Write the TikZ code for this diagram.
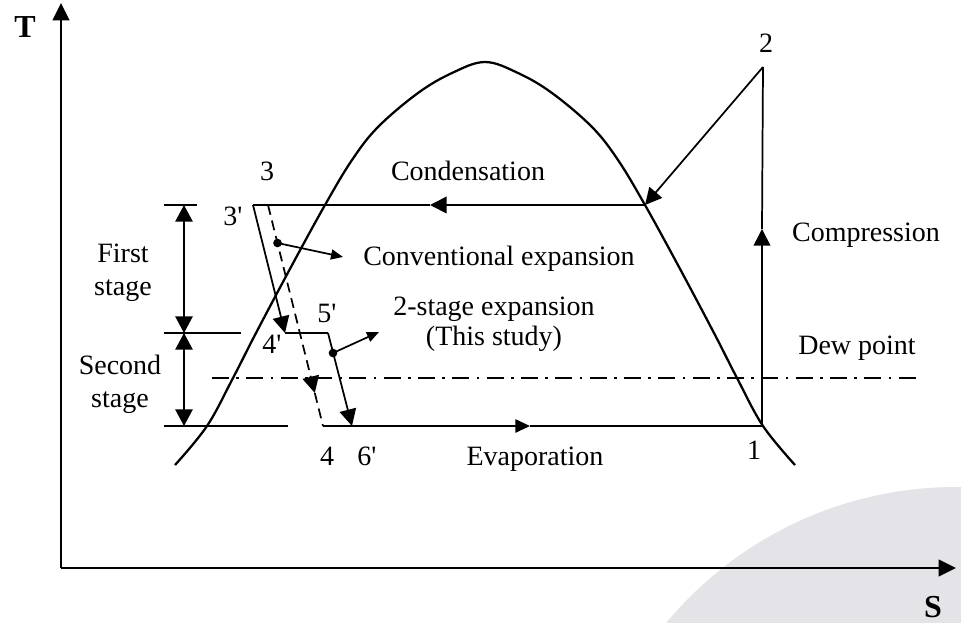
\documentclass[tikz,border=0pt]{standalone}
\usepackage{fontspec}
\setmainfont{Liberation Serif}
\usetikzlibrary{arrows.meta}
\definecolor{wmgray}{HTML}{E4E3E7}
\newcommand{\pr}{\textquotesingle}
\begin{document}
\begin{tikzpicture}[x=0.75pt,y=-0.75pt, line width=1.3pt,
  lbl/.style={font=\fontsize{21}{23}\selectfont, inner sep=0pt, anchor=base},
  axl/.style={font=\fontsize{24}{26}\selectfont\bfseries, inner sep=0pt, anchor=base},
  bigtip/.style={-{Triangle[length=12.5pt,width=12.5pt]}},
  midtip/.style={-{Triangle[length=11pt,width=10pt]}},
  smalltip/.style={-{Triangle[length=9pt,width=7.5pt]}},
  dimarrow/.style={{Triangle[length=12.5pt,width=13pt]}-{Triangle[length=12.5pt,width=13pt]}},
  dashline/.style={dash pattern=on 7.5pt off 4.5pt},
  dewline/.style={dash pattern=on 12.75pt off 5.5pt on 2pt off 5.5pt},
  dot/.style={circle, fill=black, inner sep=0pt, minimum size=6.5pt}
]
\useasboundingbox (0,0) rectangle (961,622);
% background watermark
\begin{scope}
\clip (0,0) rectangle (961,622);
\fill[wmgray] (956,864) circle[radius=377];
\end{scope}

% axes
\coordinate (O) at (61,568);
\coordinate (Ttop) at (61,3);
\coordinate (Sright) at (956,568);
\draw[-{Triangle[length=13pt,width=12.5pt]}] (O) -- (Ttop);
\draw[-{Triangle[length=13pt,width=12.5pt]}] (O) -- (Sright);
\node[axl] (Tlab) at (25,37) {T};
\node[axl] (Slab) at (933,617) {S};

% saturation dome
\draw[line width=1.7pt] plot[smooth, tension=0.6] coordinates {
 (175,465) (207,426) (233,378) (256,333) (291,267) (325,205) (352,160)
 (378,127) (418,93) (452,73) (485,62) (518,73) (552,93) (592,127)
 (618,160) (645,205) (679,267) (714,333) (737,378) (763,426) (795,465)};

% cycle points
\coordinate (p1) at (762,426);
\coordinate (p2) at (763,67);
\coordinate (pc) at (645,205);
\coordinate (p3p) at (253,205);
\coordinate (p3) at (268,205);
\coordinate (p4p) at (285,333);
\coordinate (p5p) at (328,333);
\coordinate (p6p) at (352,426);
\coordinate (p4) at (323,426);

% compression
\coordinate (cmid) at (762,229);
\draw[bigtip] (p1) -- (cmid);
\draw (cmid) -- (p2);
\draw[bigtip] (p2) -- (pc);

% condensation
\coordinate (condmid) at (430,205);
\draw[bigtip] (pc) -- (condmid);
\draw (condmid) -- (p3p);

% evaporation
\coordinate (evmid) at (530,426);
\draw[midtip] (p4) -- (evmid);
\draw (evmid) -- (p1);

% 2-stage expansion
\draw[bigtip] (p3p) -- (p4p);
\draw (p4p) -- (p5p);
\draw[bigtip] (p5p) -- (p6p);

% conventional expansion (dashed)
\coordinate (dmid) at (314.8,393);
\draw[dashline, bigtip] (p3) -- (dmid);
\draw[dashline] (dmid) -- (p4);

% pointer dots
\node[dot] (d1) at (277.5,243) {};
\coordinate (d1end) at (343,257);
\draw[smalltip] (d1.center) -- (d1end);
\node[dot] (d2) at (333,353) {};
\coordinate (d2end) at (379,332);
\draw[smalltip] (d2.center) -- (d2end);

% dew point line
\coordinate (dewL) at (212,378);
\coordinate (dewR) at (922,378);
\draw[dewline] (dewL) -- (dewR);

% stage dimension lines
\coordinate (t1a) at (164,205); \coordinate (t1b) at (197,205);
\coordinate (t2a) at (164,333); \coordinate (t2b) at (241,333);
\coordinate (t3a) at (164,426); \coordinate (t3b) at (288,426);
\draw (t1a) -- (t1b);
\draw (t2a) -- (t2b);
\draw (t3a) -- (t3b);
\coordinate (s1) at (184,205); \coordinate (s2) at (184,333); \coordinate (s3) at (184,426);
\draw[dimarrow] (s1) -- (s2);
\draw[dimarrow] (s2) -- (s3);

% labels
\node[lbl] (l2) at (766,52) {2};
\node[lbl] (l3) at (267,180) {3};
\node[lbl] (l3p) at (233,225) {3\pr};
\node[lbl] (l4p) at (272,353) {4\pr};
\node[lbl] (l5p) at (327,322) {5\pr};
\node[lbl] (l4) at (327,465) {4};
\node[lbl] (l6p) at (367,465) {6\pr};
\node[lbl] (l1) at (754,459) {1};
\node[lbl] (lcond) at (468,180) {Condensation};
\node[lbl] (lcomp) at (866,241) {Compression};
\node[lbl] (lconv) at (499,265) {Conventional expansion};
\node[lbl] (l2st) at (494,315) {2-stage expansion};
\node[lbl] (lthis) at (494,345) {(This study)};
\node[lbl] (ldew) at (857,354) {Dew point};
\node[lbl] (levap) at (535,465) {Evaporation};
\node[lbl] (lfirst) at (123,262) {First};
\node[lbl] (lstage1) at (123,295) {stage};
\node[lbl] (lsecond) at (120,374) {Second};
\node[lbl] (lstage2) at (120,407) {stage};
\end{tikzpicture}
\end{document}
